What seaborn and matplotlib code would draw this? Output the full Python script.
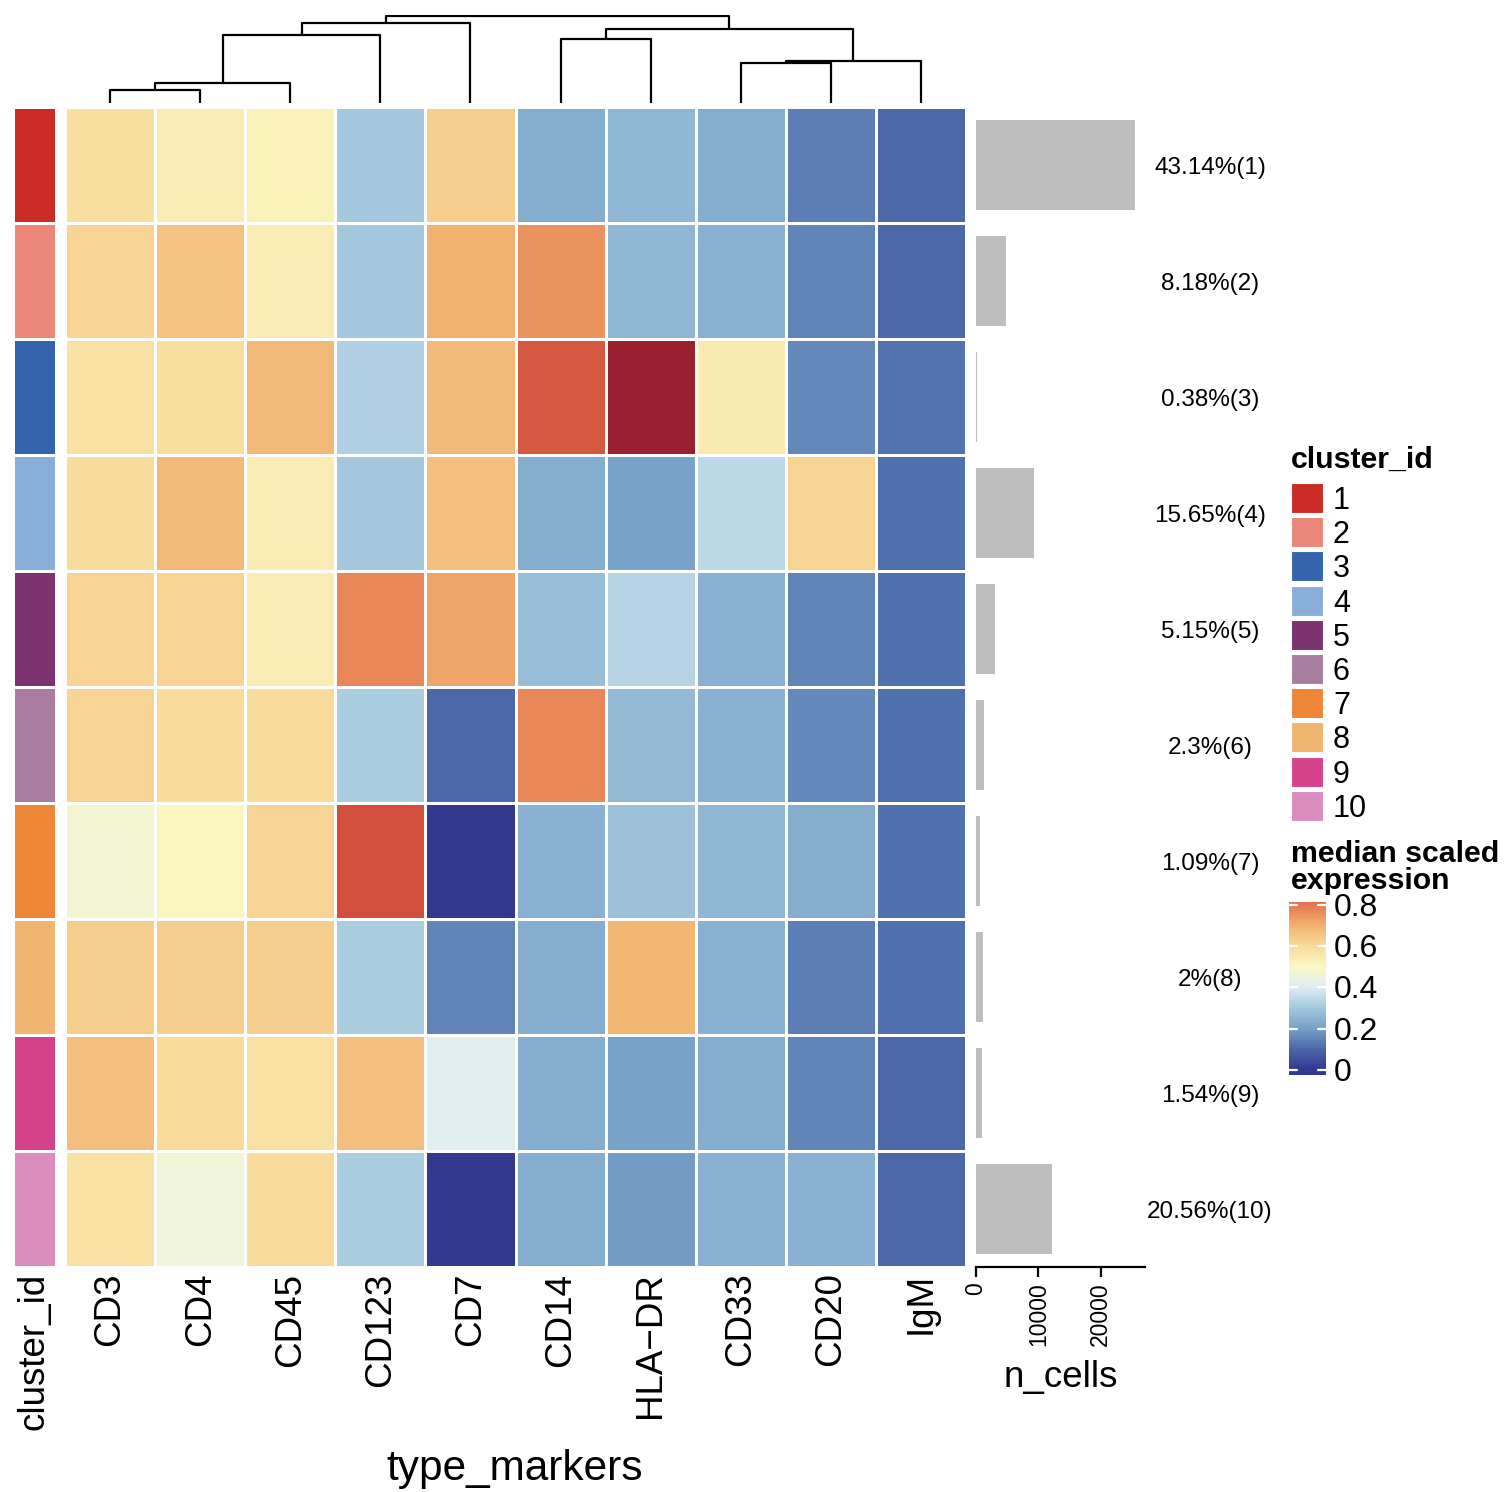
import numpy as np
import pandas as pd
import matplotlib
matplotlib.use("Agg")
import matplotlib.pyplot as plt
from matplotlib.colors import ListedColormap, LinearSegmentedColormap
from matplotlib.patches import Rectangle
from matplotlib.transforms import blended_transform_factory, offset_copy
import seaborn as sns

sns.set_theme(style="white")
plt.rcParams['font.family'] = ['Liberation Sans', 'DejaVu Sans']
plt.rcParams['text.color'] = 'black'
plt.rcParams['axes.labelcolor'] = 'black'
plt.rcParams['xtick.color'] = 'black'
plt.rcParams['ytick.color'] = 'black'

# ---------------- data ----------------
markers = ["CD3", "CD4", "CD45", "CD123", "CD7", "CD14", "HLA\u2212DR", "CD33", "CD20", "IgM"]
clusters = ["1", "2", "3", "4", "5", "6", "7", "8", "9", "10"]

expr_c1 = [0.59, 0.54, 0.52, 0.30, 0.63, 0.23, 0.25, 0.23, 0.14, 0.10]
expr_c2 = [0.62, 0.66, 0.54, 0.30, 0.70, 0.75, 0.25, 0.24, 0.15, 0.10]
expr_c3 = [0.58, 0.59, 0.68, 0.32, 0.68, 0.87, 0.99, 0.55, 0.16, 0.12]
expr_c4 = [0.60, 0.68, 0.54, 0.30, 0.67, 0.23, 0.20, 0.34, 0.62, 0.11]
expr_c5 = [0.62, 0.62, 0.54, 0.77, 0.72, 0.27, 0.33, 0.24, 0.15, 0.11]
expr_c6 = [0.62, 0.60, 0.60, 0.31, 0.10, 0.77, 0.26, 0.24, 0.16, 0.11]
expr_c7 = [0.47, 0.51, 0.62, 0.89, 0.00, 0.24, 0.28, 0.25, 0.23, 0.11]
expr_c8 = [0.63, 0.63, 0.63, 0.31, 0.15, 0.23, 0.69, 0.24, 0.14, 0.11]
expr_c9 = [0.67, 0.60, 0.58, 0.67, 0.41, 0.23, 0.20, 0.23, 0.15, 0.10]
expr_c10 = [0.58, 0.46, 0.60, 0.31, 0.00, 0.23, 0.19, 0.24, 0.24, 0.10]

n_cells = [25450, 4826, 224, 9234, 3039, 1357, 643, 1180, 909, 12130]
pct_labels = ["43.14%(1)", "8.18%(2)", "0.38%(3)", "15.65%(4)", "5.15%(5)",
              "2.3%(6)", "1.09%(7)", "2%(8)", "1.54%(9)", "20.56%(10)"]

cluster_colors = ["#CB2D26", "#EA877A", "#3465AC", "#8AAEDA", "#7C3370",
                  "#A87DA0", "#EE8637", "#F0B571", "#D5418A", "#DB8DC0"]

# heatmap palette as rendered in the reference (values 0, 0.1, ..., 1)
palette_colors = ["#343990", "#4b69aa", "#79a2c8", "#a5c9de", "#e0eef5", "#fbf8c4",
                  "#f8dc9c", "#f1b271", "#e5774f", "#cf4b3a", "#931c2e"]

# column dendrogram: (child_a, child_b, height); leaves 0..9 in display order
dendro_merges = [(0, 1, 13), (10, 2, 20), (7, 8, 40), (12, 9, 42), (5, 6, 64),
                 (11, 3, 68), (14, 13, 74), (15, 4, 80), (17, 16, 87)]

expr = pd.DataFrame([expr_c1, expr_c2, expr_c3, expr_c4, expr_c5,
                     expr_c6, expr_c7, expr_c8, expr_c9, expr_c10],
                    index=clusters, columns=markers)

# ---------------- layout ----------------
W, H = 1506, 1492
fig = plt.figure(figsize=(W / 100, H / 100), dpi=100)


def px_axes(x0, y0, x1, y1):
    return fig.add_axes([x0 / W, 1 - y1 / H, (x1 - x0) / W, (y1 - y0) / H])


cmap = LinearSegmentedColormap.from_list("ref_rdylbu", palette_colors, N=256)

# main heatmap
ax_hm = px_axes(65, 107, 966, 1267)
sns.heatmap(expr, ax=ax_hm, cmap=cmap, vmin=0, vmax=1, cbar=False,
            linewidths=2, linecolor="white", xticklabels=True, yticklabels=False)
ax_hm.tick_params(axis="x", length=0, pad=4, labelsize=26.5, labelrotation=90)
ax_hm.set_xlabel("")
ax_hm.set_ylabel("")

# left annotation
ax_an = px_axes(13, 107, 56, 1267)
ann = pd.DataFrame({"cluster_id": np.arange(len(clusters))}, index=clusters)
sns.heatmap(ann, ax=ax_an, cmap=ListedColormap(cluster_colors), cbar=False,
            linewidths=2, linecolor="white", xticklabels=True, yticklabels=False,
            vmin=-0.5, vmax=len(clusters) - 0.5)
ax_an.tick_params(axis="x", length=0, pad=4, labelsize=26.5, labelrotation=90)
ax_an.set_ylabel("")

# dendrogram
ax_dn = px_axes(65, 15, 966, 103)
ax_dn.set_xlim(0, len(markers))
ax_dn.set_ylim(0, 88)
pos = {i: i + 0.5 for i in range(len(markers))}
hgt = {i: 0.0 for i in range(len(markers))}
for k, (a, b, h) in enumerate(dendro_merges):
    node = len(markers) + k
    ax_dn.plot([pos[a], pos[a], pos[b], pos[b]], [hgt[a], h, h, hgt[b]],
               color="black", lw=1.6, solid_capstyle="butt")
    pos[node] = (pos[a] + pos[b]) / 2
    hgt[node] = h
ax_dn.axis("off")

# n_cells barplot
ax_bar = px_axes(976, 107, 1145, 1267)
ax_bar.barh(np.arange(len(clusters)) + 0.5, n_cells, height=0.78,
            color="#BEBEBE", edgecolor="none")
ax_bar.set_ylim(len(clusters), 0)
ax_bar.set_xlim(0, 27100)
for s in ["top", "right", "left"]:
    ax_bar.spines[s].set_visible(False)
ax_bar.spines["bottom"].set_color("black")
ax_bar.spines["bottom"].set_linewidth(1.6)
ax_bar.set_xticks([0, 10000, 20000])
ax_bar.set_xticklabels(["0", "10000", "20000"], rotation=90, fontsize=16.5)
ax_bar.tick_params(axis="x", direction="out", length=7, width=1.6, color="black",
                   bottom=True, pad=4)
ax_bar.set_yticks([])
ax_bar.set_xlabel("n_cells", fontsize=26.5, labelpad=10)
ax_bar.set_facecolor("white")
tr = offset_copy(blended_transform_factory(fig.transFigure, ax_bar.transData),
                 fig=fig, x=0, y=-3, units="dots")
for i, lab in enumerate(pct_labels):
    ax_bar.text(1210 / W, i + 0.5, lab, transform=tr, ha="center", va="center",
                fontsize=17.5, color="black", clip_on=False)

# x axis title
fig.text(515 / W, 1 - 1469 / H, "type_markers", ha="center", va="center", fontsize=30.5)

# cluster_id legend
ax_lg = px_axes(1285, 430, 1506, 830)
ax_lg.set_xlim(1285, 1506)
ax_lg.set_ylim(830, 430)
ax_lg.axis("off")
ax_lg.text(1291, 460, "cluster_id", fontsize=21.8, fontweight="bold", va="center", ha="left")
for i, (lab, col) in enumerate(zip(clusters, cluster_colors)):
    y0 = 483 + i * 34.2
    ax_lg.add_patch(Rectangle((1291, y0), 32, 30, facecolor=col, edgecolor="white", lw=0.8))
    ax_lg.text(1333, y0 + 18, lab, fontsize=22, va="center", ha="left")

# color bar legend
fig.text(1291 / W, 1 - 840 / H, "median scaled\nexpression", fontsize=21.8,
         fontweight="bold", va="top", ha="left", linespacing=0.97)
ax_cb = px_axes(1289, 902, 1326, 1075)
lo, hi = -0.025, 0.815
grad = np.linspace(lo, hi, 256).reshape(-1, 1)
ax_cb.imshow(grad, aspect="auto", cmap=cmap, vmin=0, vmax=1, origin="lower",
             extent=[0, 1, lo, hi])
ax_cb.set_xlim(0, 1)
ax_cb.set_ylim(lo, hi)
ax_cb.axis("off")
cb_ticks = [0, 0.2, 0.4, 0.6, 0.8]
cb_tr = offset_copy(ax_cb.transData, fig=fig, x=0, y=-3, units="dots")
for t in cb_ticks:
    ax_cb.plot([0, 0.22], [t, t], color="white", lw=1.6)
    ax_cb.plot([0.78, 1], [t, t], color="white", lw=1.6)
    ax_cb.text(1.2, t, f"{t:g}", transform=cb_tr, fontsize=23,
               va="center", ha="left", clip_on=False)

fig.savefig("out.png", dpi=100, facecolor="white")
